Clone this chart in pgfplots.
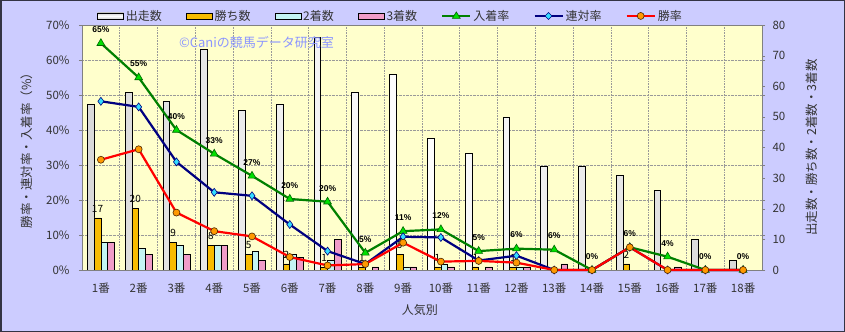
\documentclass[border=0pt]{standalone}
\usepackage{pgfplots}
\pgfplotsset{compat=1.18}
\usepackage{fontspec}
\setmainfont{Noto Sans CJK JP}
\newfontfamily\lab{Liberation Sans}
\definecolor{outerbg}{HTML}{CCCCFF}
\definecolor{plotbg}{HTML}{FFFFCC}
\definecolor{framec}{HTML}{333344}
\definecolor{txt}{HTML}{333333}
\definecolor{axc}{HTML}{808080}
\definecolor{orangebar}{HTML}{F8BC00}
\definecolor{cyanbar}{HTML}{C4F4F4}
\definecolor{pinkbar}{HTML}{F09CC8}
\definecolor{greenl}{HTML}{008000}
\definecolor{greenm}{HTML}{00E000}
\definecolor{navyl}{HTML}{000080}
\definecolor{cyanm}{HTML}{33DDFF}
\definecolor{redl}{HTML}{FF0000}
\definecolor{orangem}{HTML}{FF9900}
\definecolor{wm}{HTML}{8C96FF}

\pgfplotsset{
  /pgf/number format/assume math mode=true,
  base/.style={at={(82bp,62bp)}, anchor=south west, width=680bp, height=245bp,
    scale only axis, xmin=0.5, xmax=18.5},
  tlfont/.style={font=\fontsize{11.5bp}{13bp}\selectfont, text=txt},
  barleg/.style={legend image code/.code={\draw[black, line width=0.7bp, #1] (0bp,-3bp) rectangle (26bp,3bp);}},
  greenleg/.style={legend image code/.code={%
    \draw[greenl, line width=2.2bp] (0bp,0bp) -- (28bp,0bp);
    \filldraw[fill=greenm, draw=black!60!green, line width=0.6bp] (14bp,4bp) -- (10bp,-2.5bp) -- (18bp,-2.5bp) -- cycle;}},
  navyleg/.style={legend image code/.code={%
    \draw[navyl, line width=2.2bp] (0bp,0bp) -- (28bp,0bp);
    \filldraw[fill=cyanm, draw=navyl, line width=0.6bp] (14bp,3.5bp) -- (17.5bp,0bp) -- (14bp,-3.5bp) -- (10.5bp,0bp) -- cycle;}},
  redleg/.style={legend image code/.code={%
    \draw[redl, line width=2.2bp] (0bp,0bp) -- (28bp,0bp);
    \filldraw[fill=orangem, draw=black!70!orange, line width=0.6bp] (14bp,0bp) circle (3.5bp);}},
}
\begin{document}
\begin{tikzpicture}
\path[use as bounding box] (0,0) rectangle (845bp,332bp);
\fill[outerbg] (0,0) rectangle (845bp,332bp);
\draw[framec, line width=1.5bp] (0.75bp,0.75bp) rectangle (844.25bp,331.25bp);

% ---- background axis: grid, left ticks, x labels
\begin{axis}[base, ymin=0, ymax=70,
  axis background/.style={fill=plotbg},
  axis line style={axc},
  xtick={1,...,18},
  xticklabels={1番,2番,3番,4番,5番,6番,7番,8番,9番,10番,11番,12番,13番,14番,15番,16番,17番,18番},
  minor xtick={1.5,2.5,...,17.5},
  xminorgrids=true, ymajorgrids=true, xmajorgrids=false,
  xtick style={draw=none},
  grid style={densely dotted, gray!80, line width=0.6bp},
  minor grid style={densely dotted, gray!80, line width=0.6bp},
  ytick={0,10,...,70},
  yticklabel={\pgfmathprintnumber{\tick}\%},
  tick align=outside, major tick length=3bp, ytick style={axc},
  ticklabel style={tlfont},
  xticklabel style={yshift=-6bp},
  yticklabel style={xshift=-6bp},
  ylabel={勝率・連対率・入着率（\%）},
  ylabel style={at={(axis description cs:-0.081,0.5)}, anchor=center, font=\fontsize{12.5bp}{14bp}\selectfont, text=txt},
  xlabel={人気別},
  xlabel style={at={(axis description cs:0.497,-0.163)}, anchor=center, font=\fontsize{12bp}{14bp}\selectfont, text=txt},
]
\end{axis}

% ---- bar axis (counts, right)
\begin{axis}[base, ymin=0, ymax=80,
  axis y line*=right, axis x line=none,
  axis line style={axc},
  ytick={0,10,...,80},
  tick align=outside, major tick length=3bp, ytick style={axc},
  ticklabel style={tlfont},
  yticklabel style={xshift=4bp},
  ylabel={出走数・勝ち数・2着数・3着数},
  ylabel style={at={(axis description cs:1.073,0.5)}, anchor=center, font=\fontsize{12.5bp}{14bp}\selectfont, text=txt},
  ybar=0pt, bar width=6.75bp,
]
% 出走数
\addplot[draw=black, line width=0.7bp, left color=gray!30, right color=gray!30, middle color=white]
 coordinates {(1,54) (2,58) (3,55) (4,72) (5,52) (6,54) (7,76) (8,58) (9,64) (10,43) (11,38) (12,50) (13,34) (14,34) (15,31) (16,26) (17,10) (18,3)};
% 勝ち数
\addplot[draw=black, line width=0.7bp, fill=orangebar,
  nodes near coords, every node near coord/.append style={font=\fontsize{10bp}{11bp}\selectfont, text=black, yshift=2bp}]
 coordinates {(1,17) (2,20) (3,9) (4,8) (5,5) (6,2) (7,1) (8,1) (9,5) (10,1) (11,1) (12,1) (15,2)};
% 2着数
\addplot[draw=black, line width=0.7bp, fill=cyanbar]
 coordinates {(1,9) (2,7) (3,8) (4,8) (5,6) (6,5) (7,3) (9,1) (10,2) (12,1)};
% 3着数
\addplot[draw=black, line width=0.7bp, fill=pinkbar]
 coordinates {(1,9) (2,5) (3,5) (4,8) (5,3) (6,4) (7,10) (8,1) (9,1) (10,1) (11,1) (12,1) (13,2) (16,1)};
\end{axis}

% ---- line axis (percent)
\begin{axis}[base, ymin=0, ymax=70, hide axis, clip=false,
  legend columns=7,
  legend style={at={(axis description cs:0.022,1.037)}, anchor=west, draw=none, fill=none,
    font=\fontsize{12bp}{14bp}\selectfont, text=txt, inner sep=0pt,
    /tikz/every even column/.append style={column sep=22bp}},
]
\addlegendimage{barleg={top color=gray!35, bottom color=gray!35, middle color=white}}
\addlegendentry{出走数}
\addlegendimage{barleg={fill=orangebar}}
\addlegendentry{勝ち数}
\addlegendimage{barleg={fill=cyanbar}}
\addlegendentry{2着数}
\addlegendimage{barleg={fill=pinkbar}}
\addlegendentry{3着数}
\addlegendimage{greenleg}
\addlegendentry{入着率}
\addlegendimage{navyleg}
\addlegendentry{連対率}
\addlegendimage{redleg}
\addlegendentry{勝率}
% 入着率
\addplot[greenl, line width=2.2bp, mark=triangle*, mark size=4.5bp,
  mark options={fill=greenm, draw=black!60!green, line width=0.6bp},
  nodes near coords, point meta=explicit symbolic,
  every node near coord/.append style={font=\lab\bfseries\fontsize{8.5bp}{9.5bp}\selectfont, text=black, yshift=7bp}]
 coordinates {(1,64.8)[65\%] (2,55.0)[55\%] (3,40.0)[40\%] (4,33.2)[33\%] (5,26.9)[27\%] (6,20.3)[20\%]
  (7,19.5)[20\%] (8,4.9)[5\%] (9,11.1)[11\%] (10,11.6)[12\%] (11,5.4)[5\%] (12,6.1)[6\%]
  (13,5.8)[6\%] (14,0)[0\%] (15,6.5)[6\%] (16,3.8)[4\%] (17,0)[0\%] (18,0)[0\%]};
% 連対率
\addplot[navyl, line width=2.2bp, mark=diamond*, mark size=4bp,
  mark options={fill=cyanm, draw=navyl, line width=0.6bp}]
 coordinates {(1,48.2) (2,46.6) (3,30.9) (4,22.2) (5,21.2) (6,13.0) (7,5.4) (8,1.7) (9,9.5)
  (10,9.3) (11,2.7) (12,4.1) (13,0) (14,0) (15,6.5) (16,0) (17,0) (18,0)};
% 勝率
\addplot[redl, line width=2.2bp, mark=*, mark size=3.5bp,
  mark options={fill=orangem, draw=black!70!orange, line width=0.6bp}]
 coordinates {(1,31.5) (2,34.5) (3,16.4) (4,11.1) (5,9.6) (6,3.7) (7,1.3) (8,1.7) (9,7.8)
  (10,2.4) (11,2.6) (12,2.1) (13,0) (14,0) (15,6.5) (16,0) (17,0) (18,0)};
\end{axis}

\node[text=wm, font=\fontsize{13bp}{15bp}\selectfont] at (256.5bp,289bp) {©Caniの競馬データ研究室};
\end{tikzpicture}
\end{document}
